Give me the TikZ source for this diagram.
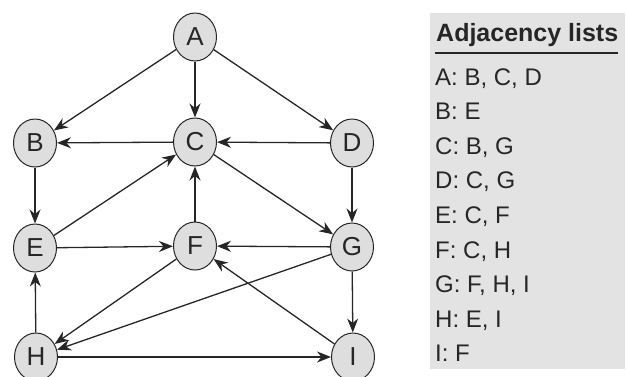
\documentclass[tikz,border=0pt]{standalone}
\usepackage{fontspec}
\setmainfont{Liberation Sans}
\usetikzlibrary{arrows.meta,shapes.geometric}
\definecolor{nodegray}{HTML}{DEDEDE}
\definecolor{boxgray}{HTML}{E3E3E3}
\definecolor{inkgray}{HTML}{262626}

\tikzset{
  vertex/.style={ellipse,draw=inkgray,line width=1pt,fill=nodegray,
    minimum width=43pt,minimum height=48pt,inner sep=0pt,
    font=\fontsize{26}{30}\selectfont,text=inkgray},
  edge/.style={draw=inkgray,line width=1.3pt,
    -{Stealth[length=14pt,width=11pt,inset=4.5pt]}},
  listrow/.style={anchor=base west,inner sep=0pt,
    font=\fontsize{24}{28}\selectfont,text=inkgray}
}

\begin{document}
\begin{tikzpicture}[x=1pt,y=-1pt]
  \useasboundingbox (0,0) rectangle (627,376);
  % graph
  \node[vertex] (A) at (195,37) {A};
  \node[vertex] (B) at (35,143) {B};
  \node[vertex] (C) at (195,142) {C};
  \node[vertex] (D) at (352,143) {D};
  \node[vertex] (E) at (35,248) {E};
  \node[vertex] (F) at (195,246) {F};
  \node[vertex] (G) at (352,247) {G};
  \node[vertex] (H) at (36,357) {H};
  \node[vertex] (I) at (353,357) {I};
  \draw[edge] (A) -- (B);
  \draw[edge] (A) -- (C);
  \draw[edge] (A) -- (D);
  \draw[edge] (B) -- (E);
  \draw[edge] (C) -- (B);
  \draw[edge] (C) -- (G);
  \draw[edge] (D) -- (C);
  \draw[edge] (D) -- (G);
  \draw[edge] (E) -- (C);
  \draw[edge] (E) -- (F);
  \draw[edge] (F) -- (C);
  \draw[edge] (F) -- (H);
  \draw[edge] (G) -- (F);
  \draw[edge] (G) -- (H);
  \draw[edge] (G) -- (I);
  \draw[edge] (H) -- (E);
  \draw[edge,line width=1.9pt] (H) -- (I);
  \draw[edge] (I) -- (F);
  % adjacency lists
  \fill[boxgray] (430,13) rectangle (625,369);
  \node[listrow,font=\bfseries\fontsize{25}{28}\selectfont] (head) at (436,41) {Adjacency lists};
  \draw[inkgray,line width=2pt] (435,53) -- (618,53);
  \node[listrow] (la) at (435,85) {A: B, C, D};
  \node[listrow] (lb) at (435,119.6) {B: E};
  \node[listrow] (lc) at (435,154.2) {C: B, G};
  \node[listrow] (ld) at (435,188.8) {D: C, G};
  \node[listrow] (le) at (435,223.4) {E: C, F};
  \node[listrow] (lf) at (435,258) {F: C, H};
  \node[listrow] (lg) at (435,292.6) {G: F, H, I};
  \node[listrow] (lh) at (435,327.2) {H: E, I};
  \node[listrow] (li) at (435,361.8) {I: F};
\end{tikzpicture}
\end{document}
